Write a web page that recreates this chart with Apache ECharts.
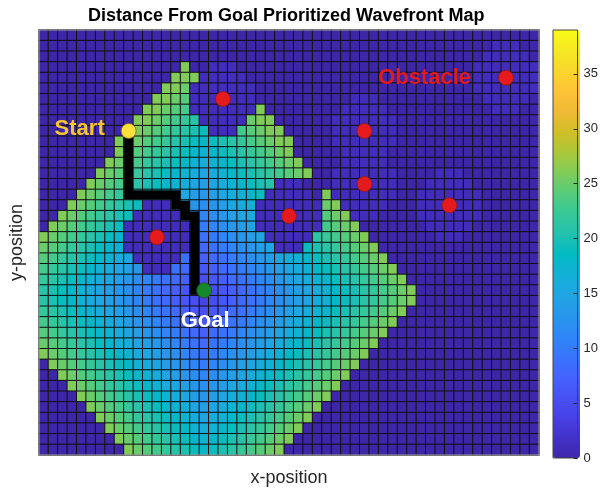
<!DOCTYPE html>
<html>
<head>
<meta charset="utf-8">
<title>Distance From Goal Prioritized Wavefront Map</title>
<script src="https://cdn.jsdelivr.net/npm/echarts@6/dist/echarts.min.js"></script>
<style>
  html, body { margin: 0; padding: 0; background: #fff; }
  #chart { width: 601px; height: 492px; }
</style>
</head>
<body>
<div id="chart"></div>
<script>
// wavefront map, one string per row (top row first), one base-36 digit per cell
// 0 = not reached, 1 = inflated obstacle, 4..26 = distance value
var gridRows = [
  "0000000000 0000000000 0000000000 0000000000 0000000000 000",
  "0000000000 0000000000 0000000000 0000000000 0000000011 100",
  "0000000000 0000000000 0000000000 0000000000 0000000111 110",
  "0000000000 00000q0011 1000000000 0000000000 0000001111 111",
  "0000000000 0000qqq111 1100000000 0000000000 0000001111 111",
  "0000000000 000qqp1111 1110000000 0000000000 0000001111 111",
  "0000000000 00qqpo1111 1110000000 0001110000 0000000111 110",
  "0000000000 0qqpon1111 111q000000 0011111000 0000000011 100",
  "0000000000 qqponml111 11pqq00000 0111111100 0000000000 000",
  "000000000q qponmlkj11 1nopqq0000 0111111100 0000000000 000",
  "00000000qq ponmlkjijk lmnopqq000 0111111100 0000000000 000",
  "00000000qp onmlkjihij klmnopq000 0011111000 0000000000 000",
  "0000000qpo nmlkjihghi jklmnopq00 0011111000 0000000000 000",
  "000000qpon mlkjihgfgh ijklmnopq0 0111111100 0011100000 000",
  "00000qponm lkjihgfefg hijkl11100 0111111100 0111110000 000",
  "0000qponml kjihgfedef ghij111110 q111111100 1111111000 000",
  "000qponmlk j111fedcde fgh1111111 pq11111000 1111111000 000",
  "00qponmlkj 11111dcbcd efg1111111 opq1110000 1111111000 000",
  "0qponmlkj1 111111babc def1111111 nopq000000 0111110000 000",
  "qponmlkji1 111111a9ab cdef11111l mnopq00000 0011100000 000",
  "ponmlkjih1 111111989a bcdef111jk lmnopq0000 0000000000 000",
  "onmlkjihgf 1111198789 abcdefghij klmnopq000 0000000000 000",
  "nmlkjihgfe d111987678 9abcdefghi jklmnopq00 0000000000 000",
  "mlkjihgfed cba9876567 89abcdefgh ijklmnopq0 0000000000 000",
  "lkjihgfedc ba98765456 789abcdefg hijklmnopq 0000000000 000",
  "lkjihgfedc ba98765456 789abcdefg hijklmnopq 0000000000 000",
  "mlkjihgfed cba9876567 89abcdefgh ijklmnopq0 0000000000 000",
  "nmlkjihgfe dcba987678 9abcdefghi jklmnopq00 0000000000 000",
  "onmlkjihgf edcba98789 abcdefghij klmnopq000 0000000000 000",
  "ponmlkjihg fedcba989a bcdefghijk lmnopq0000 0000000000 000",
  "qponmlkjih gfedcba9ab cdefghijkl mnopq00000 0000000000 000",
  "0qponmlkji hgfedcbabc defghijklm nopq000000 0000000000 000",
  "00qponmlkj ihgfedcbcd efghijklmn opq0000000 0000000000 000",
  "000qponmlk jihgfedcde fghijklmno pq00000000 0000000000 000",
  "0000qponml kjihgfedef ghijklmnop q000000000 0000000000 000",
  "00000qponm lkjihgfefg hijklmnopq 0000000000 0000000000 000",
  "000000qpon mlkjihgfgh ijklmnopq0 0000000000 0000000000 000",
  "0000000qpo nmlkjihghi jklmnopq00 0000000000 0000000000 000",
  "00000000qp onmlkjihij klmnopq000 0000000000 0000000000 000",
  "000000000q ponmlkjijk lmnopq0000 0000000000 0000000000 000"
];

// [column, row] of cells, row 0 at the top
var startCell = [9, 9];
var goalCell = [17, 24];
var obstacleCells = [[12, 19], [19, 6], [26, 17], [34, 9], [34, 14], [43, 16], [49, 4]];
var pathCells = [[9, 9], [9, 15], [14, 15], [14, 16], [15, 16], [15, 17], [16, 17], [16, 24], [17, 24]];

var colorMin = 0;
var colorMax = 39;
var colorTickStep = 5;

// parula
var parula = ['#3e26a8', '#4332cb', '#4741e5', '#4852f4', '#4563fd', '#3875fe', '#2e87f7',
  '#2796eb', '#20a5e3', '#12b1d6', '#02bac3', '#24c1ae', '#37c897', '#57cc7a', '#81cc59',
  '#abc739', '#d1bf27', '#f0ba36', '#fec338', '#fad62d', '#f5e924', '#f9fb15'];

var rows = gridRows.map(function (s) { return s.replace(/ /g, ''); });
var nRows = rows.length;
var nCols = rows[0].length;

var heatData = [];
rows.forEach(function (row, r) {
  row.split('').forEach(function (ch, c) {
    heatData.push([c, r, parseInt(ch, 36)]);
  });
});

var xCells = [], yCells = [];
for (var i = 0; i < nCols; i++) xCells.push(i);
for (var j = 0; j < nRows; j++) yCells.push(j);

var font = 'Liberation Sans, Arial, Helvetica, sans-serif';
var markLabel = { fontFamily: font, fontSize: 22, fontWeight: 'bold' };

var obstacleData = obstacleCells.map(function (p, k) {
  if (k !== obstacleCells.length - 1) return p;
  return {
    value: p,
    label: Object.assign({ show: true, formatter: 'Obstacle', position: 'left', distance: 27, color: '#e31a1c' }, markLabel)
  };
});

var chart = echarts.init(document.getElementById('chart'), null, { renderer: 'canvas' });

chart.setOption({
  animation: false,
  backgroundColor: '#fff',
  textStyle: { fontFamily: font },
  title: {
    text: 'Distance From Goal Prioritized Wavefront Map',
    left: 88,
    top: 7,
    padding: 0,
    textStyle: { fontFamily: font, fontSize: 18, fontWeight: 'bold', color: '#000' }
  },
  grid: [
    { left: 36, top: 30, width: 503, height: 428, show: true, borderColor: '#b0b0b0', borderWidth: 1, z: 3 },
    { left: 553, top: 30, width: 27, height: 428, show: true, borderColor: '#444', borderWidth: 1, z: 6 }
  ],
  xAxis: [
    {
      type: 'category', gridIndex: 0, data: xCells,
      axisLine: { show: false }, axisTick: { show: false }, axisLabel: { show: false }, splitLine: { show: false },
      name: 'x-position', nameLocation: 'middle', nameGap: 14,
      nameTextStyle: { fontFamily: font, fontSize: 18, color: '#262626' }
    },
    { type: 'value', gridIndex: 1, show: false, min: 0, max: 1 }
  ],
  yAxis: [
    {
      type: 'category', gridIndex: 0, data: yCells, inverse: true,
      axisLine: { show: false }, axisTick: { show: false }, axisLabel: { show: false }, splitLine: { show: false },
      name: 'y-position', nameLocation: 'middle', nameGap: 13, nameRotate: 90,
      nameTextStyle: { fontFamily: font, fontSize: 18, color: '#262626' }
    },
    {
      type: 'value', gridIndex: 1, position: 'right', min: colorMin, max: colorMax, interval: colorTickStep,
      z: 10,
      axisLine: { show: false, onZero: false },
      axisTick: { show: true, inside: true, length: 4, lineStyle: { color: '#262626' } },
      axisLabel: { fontFamily: font, fontSize: 13, color: '#262626', margin: 6, showMaxLabel: false },
      splitLine: { show: false }
    }
  ],
  visualMap: {
    type: 'continuous',
    seriesIndex: 0,
    dimension: 2,
    min: colorMin,
    max: colorMax,
    calculable: false,
    hoverLink: false,
    orient: 'vertical',
    left: 553,
    top: 30,
    padding: 0,
    itemWidth: 27,
    itemHeight: 428,
    inRange: { color: parula }
  },
  series: [
    {
      type: 'heatmap',
      xAxisIndex: 0, yAxisIndex: 0,
      data: heatData,
      itemStyle: { borderColor: '#111', borderWidth: 1 },
      emphasis: { disabled: true },
      z: 2
    },
    {
      type: 'line',
      xAxisIndex: 0, yAxisIndex: 0,
      data: pathCells,
      symbol: 'none',
      lineStyle: { color: '#000', width: 9, join: 'miter', cap: 'butt' },
      silent: true,
      z: 3
    },
    {
      type: 'scatter',
      xAxisIndex: 0, yAxisIndex: 0,
      data: obstacleData,
      symbolSize: 15,
      itemStyle: { color: '#e41a1c', borderColor: '#8c1b1b', borderWidth: 0.8, opacity: 1 },
      z: 4
    },
    {
      type: 'scatter',
      xAxisIndex: 0, yAxisIndex: 0,
      data: [startCell],
      symbolSize: 15,
      itemStyle: { color: '#ffe13b', borderColor: '#7a6a30', borderWidth: 0.8, opacity: 1 },
      label: Object.assign({ show: true, formatter: 'Start', position: 'left', distance: 16, offset: [0, -2], color: '#f7c62f' }, markLabel),
      z: 4
    },
    {
      type: 'scatter',
      xAxisIndex: 0, yAxisIndex: 0,
      data: [goalCell],
      symbolSize: 15,
      itemStyle: { color: '#16882c', borderColor: '#1f4d25', borderWidth: 0.8, opacity: 1 },
      label: Object.assign({ show: true, formatter: 'Goal', position: 'bottom', distance: 12, offset: [1, 0], color: '#ffffff' }, markLabel),
      z: 4
    }
  ]
});
</script>
</body>
</html>
